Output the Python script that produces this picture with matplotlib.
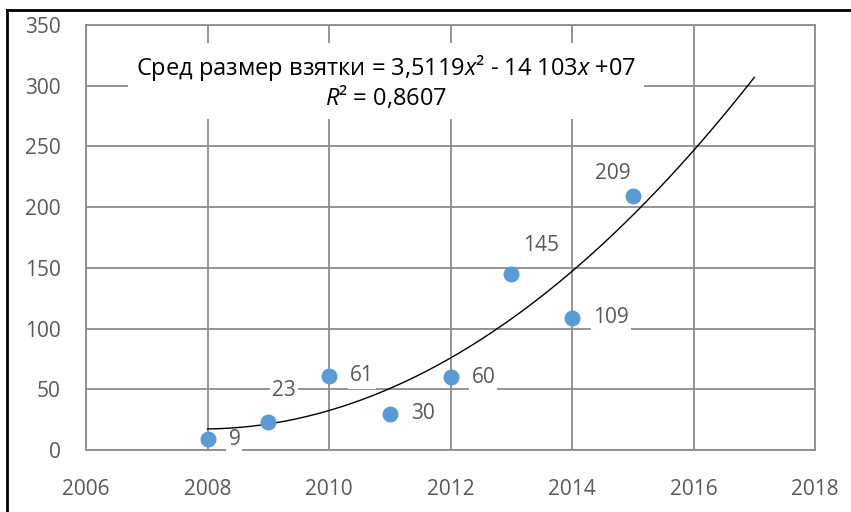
import numpy as np
import matplotlib
matplotlib.use("Agg")
import matplotlib.pyplot as plt
from matplotlib.lines import Line2D

years = [2008, 2009, 2010, 2011, 2012, 2013, 2014, 2015]
values = [9, 23, 61, 30, 60, 145, 109, 209]
xticks = [2006, 2008, 2010, 2012, 2014, 2016, 2018]
yticks = [0, 50, 100, 150, 200, 250, 300, 350]
eq_text = "Сред размер взятки = 3,5119$\\mathit{x}$² - 14 103$\\mathit{x}$ +07\n$\\mathit{R}$² = 0,8607"

# label placement (pixel offsets from point; None = to the right)
label_offsets = [None, (16, 32), None, None, None, (30, 28), None, (-20, 23)]

plt.rcParams['font.family'] = ['Open Sans', 'DejaVu Sans']
plt.rcParams['mathtext.fontset'] = 'custom'
plt.rcParams['mathtext.it'] = 'Open Sans:italic'
plt.rcParams['mathtext.rm'] = 'Open Sans'

fig = plt.figure(figsize=(8.51, 5.12), dpi=100)
ax = fig.add_axes([86/851, 1-450/512, (815-86)/851, (450-25)/512])

grid_c = "#8c8c8c"
ax.set_xlim(2006, 2018)
ax.set_ylim(0, 350)
ax.set_xticks(xticks)
ax.set_yticks(yticks)
ax.grid(True, color=grid_c, linewidth=1.3, zorder=0)
for s in ax.spines.values():
    s.set_color(grid_c)
    s.set_linewidth(1.3)
ax.tick_params(length=0, labelsize=15, labelcolor="#595959")
ax.tick_params(axis='y', pad=18)
ax.tick_params(axis='x', pad=21)

# trendline
coef = np.polyfit(years, values, 2)
xs = np.linspace(2008, 2017, 200)
ax.plot(xs, np.polyval(coef, xs), color="black", linewidth=1.0, zorder=6)

ax.scatter(years, values, s=11.5**2, color="#5B9BD5", zorder=7, linewidths=0)

bbox = dict(facecolor="white", edgecolor="none", pad=1.5)
k = 0.72
for x, y, off in zip(years, values, label_offsets):
    if off is None:
        ax.annotate(str(y), (x, y), xytext=(21*k, 0), textcoords="offset points",
                    ha="left", va="center", fontsize=15, color="#595959", bbox=bbox, zorder=5)
    else:
        ax.annotate(str(y), (x, y), xytext=(off[0]*k, off[1]*k), textcoords="offset points",
                    ha="center", va="center", fontsize=15, color="#595959", bbox=bbox, zorder=5)

ax.text(386/851, 1-82/512, eq_text, transform=fig.transFigure, ha="center", va="center",
        fontsize=17, color="black", linespacing=1.05,
        bbox=dict(facecolor="white", edgecolor="none", pad=6), zorder=8)

fig.add_artist(Line2D([7/851, 7/851], [0, 1-10/512], color="black", linewidth=2, transform=fig.transFigure))
fig.add_artist(Line2D([7/851, 1], [1-10/512, 1-10/512], color="black", linewidth=2, transform=fig.transFigure))

fig.savefig("out.png", dpi=100)
